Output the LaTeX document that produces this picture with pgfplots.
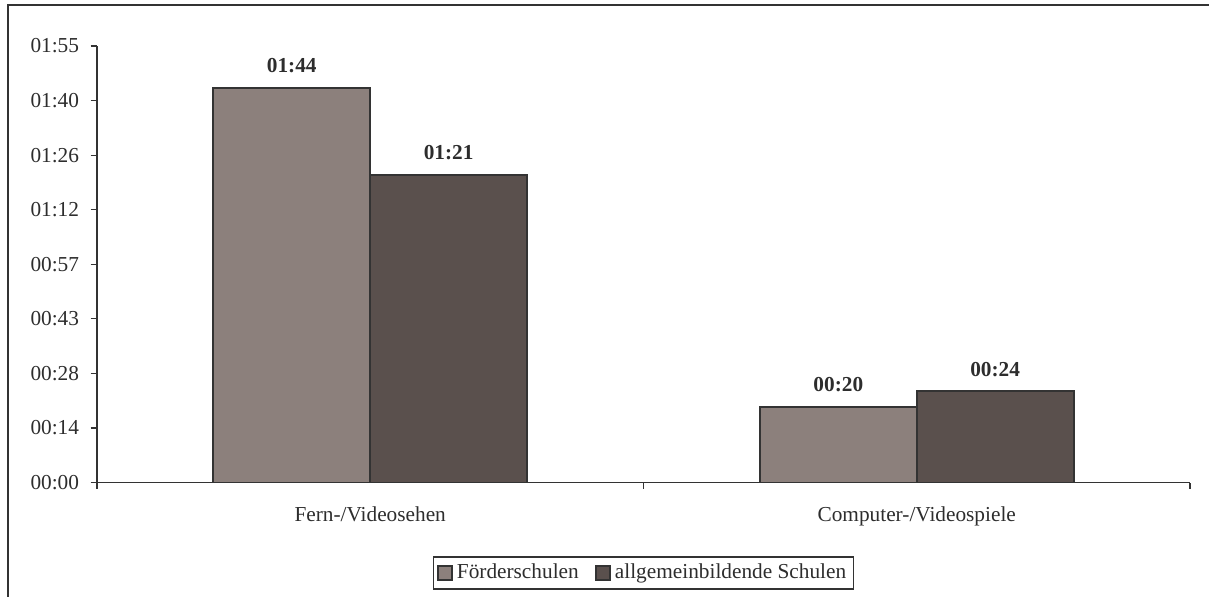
\documentclass[border=0pt]{standalone}
\usepackage{pgfplots}
\pgfplotsset{compat=1.18}
\usepackage{fontspec}
\setmainfont{Liberation Serif}

\definecolor{barA}{RGB}{140,128,124}
\definecolor{barB}{RGB}{90,80,77}
\definecolor{edge}{RGB}{51,51,51}
\definecolor{txt}{RGB}{45,45,45}

\begin{document}
\fontsize{10.7}{12.5}\selectfont
\begin{tikzpicture}
% page frame (chart area border, cut at right and bottom)
\path (0bp,0bp) rectangle (605bp,298.5bp);
\draw[edge, line width=1bp] (4bp,0bp) -- (4bp,296bp) -- (605bp,296bp);

\begin{axis}[
  at={(48.5bp,57bp)}, anchor=south west,
  scale only axis, width=547bp, height=218.5bp,
  ybar=0pt, bar width=78.5bp,
  xmin=-0.5, xmax=1.5, ymin=0, ymax=115,
  enlargelimits=false,
  axis x line*=bottom, axis y line*=left,
  axis line style={-, edge, line width=0.6bp},
  tick style={edge, line width=0.6bp},
  tick align=outside, major tick length=3.2bp,
  xtick={-0.5,0.5,1.5},
  xticklabels={Fern-/Videosehen,Computer-/Videospiele},
  x tick label as interval,
  xticklabel style={yshift=-5bp, text=txt},
  ytick={0,14.375,28.75,43.125,57.5,71.875,86.25,100.625,115},
  yticklabels={00:00,00:14,00:28,00:43,00:57,01:12,01:26,01:40,01:55},
  yticklabel style={xshift=-2bp, text=txt},
  /pgf/number format/assume math mode=true,
  point meta=explicit symbolic,
  nodes near coords={\textbf{\pgfplotspointmeta}},
  nodes near coords style={text=txt, yshift=3.5bp},
  legend style={at={(0.5,-0.207)}, anchor=center, draw=edge,
    line width=0.6bp, legend columns=2, inner sep=1.5bp,
    /tikz/every even column/.append style={column sep=6bp},
    text=txt},
  legend image code/.code={\draw[#1, draw=edge, line width=0.9bp] (0bp,-3.6bp) rectangle (7.2bp,3.6bp);},
]
\addplot[fill=barA, draw=edge, line width=1bp] coordinates {(0,104) [01:44] (1,20) [00:20]};
\addplot[fill=barB, draw=edge, line width=1bp] coordinates {(0,81) [01:21] (1,24) [00:24]};
\legend{Förderschulen,allgemeinbildende Schulen}
\end{axis}
\end{tikzpicture}
\end{document}
